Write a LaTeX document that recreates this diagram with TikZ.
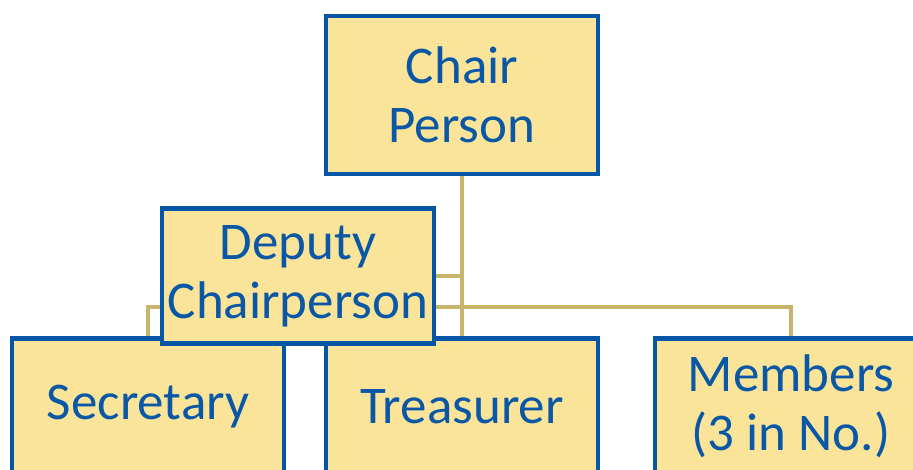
\documentclass[tikz,border=0pt]{standalone}
\usepackage{fontspec}
\setmainfont{Carlito}
\usetikzlibrary{backgrounds}
\definecolor{boxfill}{HTML}{F9E49A}
\definecolor{boxline}{HTML}{0556A6}
\definecolor{txt}{HTML}{0A57A6}
\definecolor{conn}{HTML}{C9B46C}
\tikzset{
  orgbox/.style={draw=boxline, fill=boxfill, line width=4.5pt, rectangle,
    inner sep=0pt, minimum width=272pt, text=txt, align=center,
    font=\fontsize{53}{59}\selectfont},
  link/.style={draw=conn, line width=4pt}
}
\begin{document}
\begin{tikzpicture}[x=1pt,y=-1pt]
\useasboundingbox (0,0) rectangle (913,469);
\clip (0,0) rectangle (913,469);
\node[orgbox, minimum height=158pt] (chair) at (462,95) {Chair\\Person};
\node[orgbox, minimum height=136pt, anchor=north] (sec) at (148,336) {Secretary};
\node[orgbox, minimum height=136pt, anchor=north] (tre) at (462,336) {Treasurer};
\node[orgbox, minimum height=136pt, anchor=north] (mem) at (791,336) {Members\\(3 in No.)};
\node[orgbox, minimum height=135pt] (deputy) at (298,276) {Deputy\\Chairperson};
\coordinate (bus) at (0,307);
\begin{scope}[on background layer]
\draw[link] (chair.south) -- (tre.north);
\draw[link] (deputy.east) -- (deputy.east -| chair.south);
\draw[link] (sec.north) -- (sec.north |- bus) -- (mem.north |- bus) -- (mem.north);
\end{scope}
\end{tikzpicture}
\end{document}
